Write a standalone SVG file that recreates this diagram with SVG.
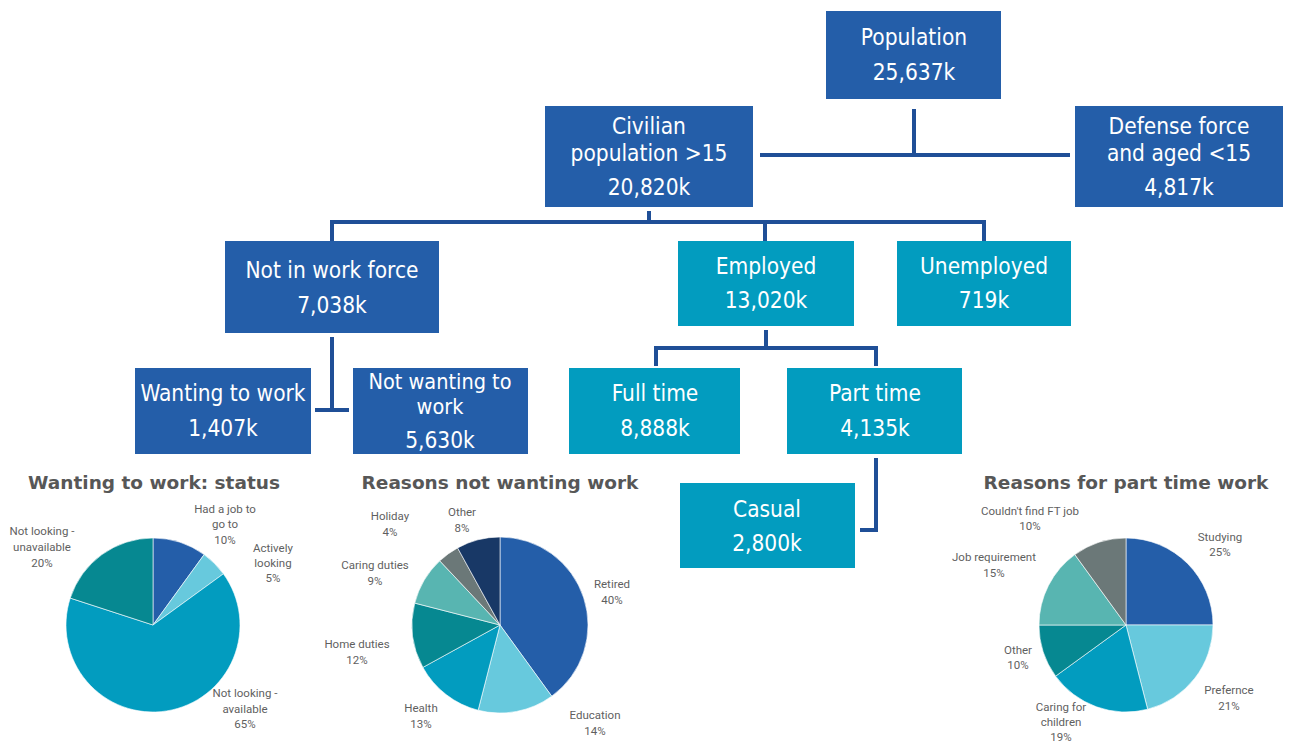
<svg xmlns="http://www.w3.org/2000/svg" width="1290" height="742" viewBox="0 0 1290 742">
  <style>
    .dark { fill: #245EA9; }
    .teal { fill: #029CBF; }
    .bt { font-family: "DejaVu Sans Condensed", "DejaVu Sans", sans-serif; font-size: 22.5px; fill: #ffffff; text-anchor: middle; }
    .tight { font-size: 21.5px; }
    .ln { fill: none; stroke: #1F4F97; stroke-width: 4; }
    .title { font-family: "DejaVu Sans", sans-serif; font-weight: bold; font-size: 18.5px; fill: #575757; text-anchor: middle; }
    .pl { font-family: Roboto, "Liberation Sans", sans-serif; font-size: 11.5px; fill: #5f5f5f; text-anchor: middle; }
    .sl { stroke: #ffffff; stroke-width: 0.6; }
    .c1 { fill: #245EA9; }
    .c2 { fill: #67C9DD; }
    .c3 { fill: #029CBF; }
    .c4 { fill: #068891; }
    .c5 { fill: #58B5B1; }
    .c6 { fill: #6B7878; }
    .c7 { fill: #183866; }
  </style>

  <!-- connectors -->
  <g id="connectors">
    <path class="ln" d="M914,109 V155 M760,155 H1070"/>
    <path class="ln" d="M649,211 V222 M332,241 V222 H984 V241 M765,222 V241"/>
    <path class="ln" d="M332,337 V410 M315,410 H349"/>
    <path class="ln" d="M766,330 V348 M656,366 V348 H876 V366"/>
    <path class="ln" d="M876,458 V530 H860"/>
  </g>

  <!-- tree nodes -->
  <g id="population">
    <rect class="dark" x="826" y="11" width="175" height="88"/>
    <text class="bt" x="914" y="45">Population</text>
    <text class="bt" x="914" y="80">25,637k</text>
  </g>
  <g id="civilian">
    <rect class="dark" x="545" y="106" width="208" height="101"/>
    <text class="bt" x="649" y="134">Civilian</text>
    <text class="bt" x="649" y="161">population &gt;15</text>
    <text class="bt" x="649" y="195">20,820k</text>
  </g>
  <g id="defense">
    <rect class="dark" x="1075" y="106" width="208" height="101"/>
    <text class="bt" x="1179" y="134">Defense force</text>
    <text class="bt" x="1179" y="161">and aged &lt;15</text>
    <text class="bt" x="1179" y="195">4,817k</text>
  </g>
  <g id="not-in-work-force">
    <rect class="dark" x="225" y="241" width="214" height="92"/>
    <text class="bt" x="332" y="278">Not in work force</text>
    <text class="bt" x="332" y="313">7,038k</text>
  </g>
  <g id="employed">
    <rect class="teal" x="678" y="241" width="176" height="85"/>
    <text class="bt" x="766" y="274">Employed</text>
    <text class="bt" x="766" y="308">13,020k</text>
  </g>
  <g id="unemployed">
    <rect class="teal" x="897" y="241" width="174" height="85"/>
    <text class="bt" x="984" y="274">Unemployed</text>
    <text class="bt" x="984" y="308">719k</text>
  </g>
  <g id="wanting">
    <rect class="dark" x="135" y="368" width="176" height="86"/>
    <text class="bt" x="223" y="401">Wanting to work</text>
    <text class="bt" x="223" y="436">1,407k</text>
  </g>
  <g id="not-wanting">
    <rect class="dark" x="353" y="368" width="175" height="86"/>
    <text class="bt tight" x="440" y="389">Not wanting to</text>
    <text class="bt tight" x="440" y="414">work</text>
    <text class="bt" x="440" y="448">5,630k</text>
  </g>
  <g id="full-time">
    <rect class="teal" x="569" y="368" width="171" height="86"/>
    <text class="bt" x="655" y="401">Full time</text>
    <text class="bt" x="655" y="436">8,888k</text>
  </g>
  <g id="part-time">
    <rect class="teal" x="787" y="368" width="175" height="86"/>
    <text class="bt" x="875" y="401">Part time</text>
    <text class="bt" x="875" y="436">4,135k</text>
  </g>
  <g id="casual">
    <rect class="teal" x="680" y="483" width="175" height="85"/>
    <text class="bt" x="767" y="517">Casual</text>
    <text class="bt" x="767" y="551">2,800k</text>
  </g>

  <!-- pie: wanting to work status -->
  <g id="pie-status">
    <text class="title" x="154" y="489">Wanting to work: status</text>
    <path class="c1 sl" d="M153,625 L153,538 A87,87 0 0 1 204.14,554.62 Z"/>
    <path class="c2 sl" d="M153,625 L204.14,554.62 A87,87 0 0 1 223.38,573.86 Z"/>
    <path class="c3 sl" d="M153,625 L223.38,573.86 A87,87 0 1 1 70.26,598.12 Z"/>
    <path class="c4 sl" d="M153,625 L70.26,598.12 A87,87 0 0 1 153,538 Z"/>
    <text class="pl" x="225" y="513">Had a job to</text>
    <text class="pl" x="225" y="528">go to</text>
    <text class="pl" x="225" y="544">10%</text>
    <text class="pl" x="273" y="552">Actively</text>
    <text class="pl" x="273" y="567">looking</text>
    <text class="pl" x="273" y="582">5%</text>
    <text class="pl" x="42" y="535">Not looking -</text>
    <text class="pl" x="42" y="551">unavailable</text>
    <text class="pl" x="42" y="567">20%</text>
    <text class="pl" x="245" y="697">Not looking -</text>
    <text class="pl" x="245" y="713">available</text>
    <text class="pl" x="245" y="728">65%</text>
  </g>

  <!-- pie: reasons not wanting work -->
  <g id="pie-not-wanting">
    <text class="title" x="500" y="489">Reasons not wanting work</text>
    <path class="c1 sl" d="M500,625 L500,537 A88,88 0 0 1 551.73,696.19 Z"/>
    <path class="c2 sl" d="M500,625 L551.73,696.19 A88,88 0 0 1 478.11,710.24 Z"/>
    <path class="c3 sl" d="M500,625 L478.11,710.24 A88,88 0 0 1 422.89,667.40 Z"/>
    <path class="c4 sl" d="M500,625 L422.89,667.40 A88,88 0 0 1 414.76,603.11 Z"/>
    <path class="c5 sl" d="M500,625 L414.76,603.11 A88,88 0 0 1 439.76,560.85 Z"/>
    <path class="c6 sl" d="M500,625 L439.76,560.85 A88,88 0 0 1 457.60,547.89 Z"/>
    <path class="c7 sl" d="M500,625 L457.60,547.89 A88,88 0 0 1 500,537 Z"/>
    <text class="pl" x="612" y="588">Retired</text>
    <text class="pl" x="612" y="604">40%</text>
    <text class="pl" x="595" y="719">Education</text>
    <text class="pl" x="595" y="735">14%</text>
    <text class="pl" x="421" y="712">Health</text>
    <text class="pl" x="421" y="728">13%</text>
    <text class="pl" x="357" y="648">Home duties</text>
    <text class="pl" x="357" y="664">12%</text>
    <text class="pl" x="375" y="569">Caring duties</text>
    <text class="pl" x="375" y="585">9%</text>
    <text class="pl" x="390" y="520">Holiday</text>
    <text class="pl" x="390" y="536">4%</text>
    <text class="pl" x="462" y="516">Other</text>
    <text class="pl" x="462" y="532">8%</text>
  </g>

  <!-- pie: reasons for part time work -->
  <g id="pie-part-time">
    <text class="title" x="1126" y="489">Reasons for part time work</text>
    <path class="c1 sl" d="M1126,625 L1126,538 A87,87 0 0 1 1213,625 Z"/>
    <path class="c2 sl" d="M1126,625 L1213,625 A87,87 0 0 1 1147.64,709.27 Z"/>
    <path class="c3 sl" d="M1126,625 L1147.64,709.27 A87,87 0 0 1 1055.62,676.14 Z"/>
    <path class="c4 sl" d="M1126,625 L1055.62,676.14 A87,87 0 0 1 1039,625 Z"/>
    <path class="c5 sl" d="M1126,625 L1039,625 A87,87 0 0 1 1074.86,554.62 Z"/>
    <path class="c6 sl" d="M1126,625 L1074.86,554.62 A87,87 0 0 1 1126,538 Z"/>
    <text class="pl" x="1220" y="541">Studying</text>
    <text class="pl" x="1220" y="556">25%</text>
    <text class="pl" x="1229" y="694">Prefernce</text>
    <text class="pl" x="1229" y="710">21%</text>
    <text class="pl" x="1061" y="711">Caring for</text>
    <text class="pl" x="1061" y="726">children</text>
    <text class="pl" x="1061" y="741">19%</text>
    <text class="pl" x="1018" y="654">Other</text>
    <text class="pl" x="1018" y="669">10%</text>
    <text class="pl" x="994" y="561">Job requirement</text>
    <text class="pl" x="994" y="577">15%</text>
    <text class="pl" x="1030" y="515">Couldn't find FT job</text>
    <text class="pl" x="1030" y="530">10%</text>
  </g>
</svg>
